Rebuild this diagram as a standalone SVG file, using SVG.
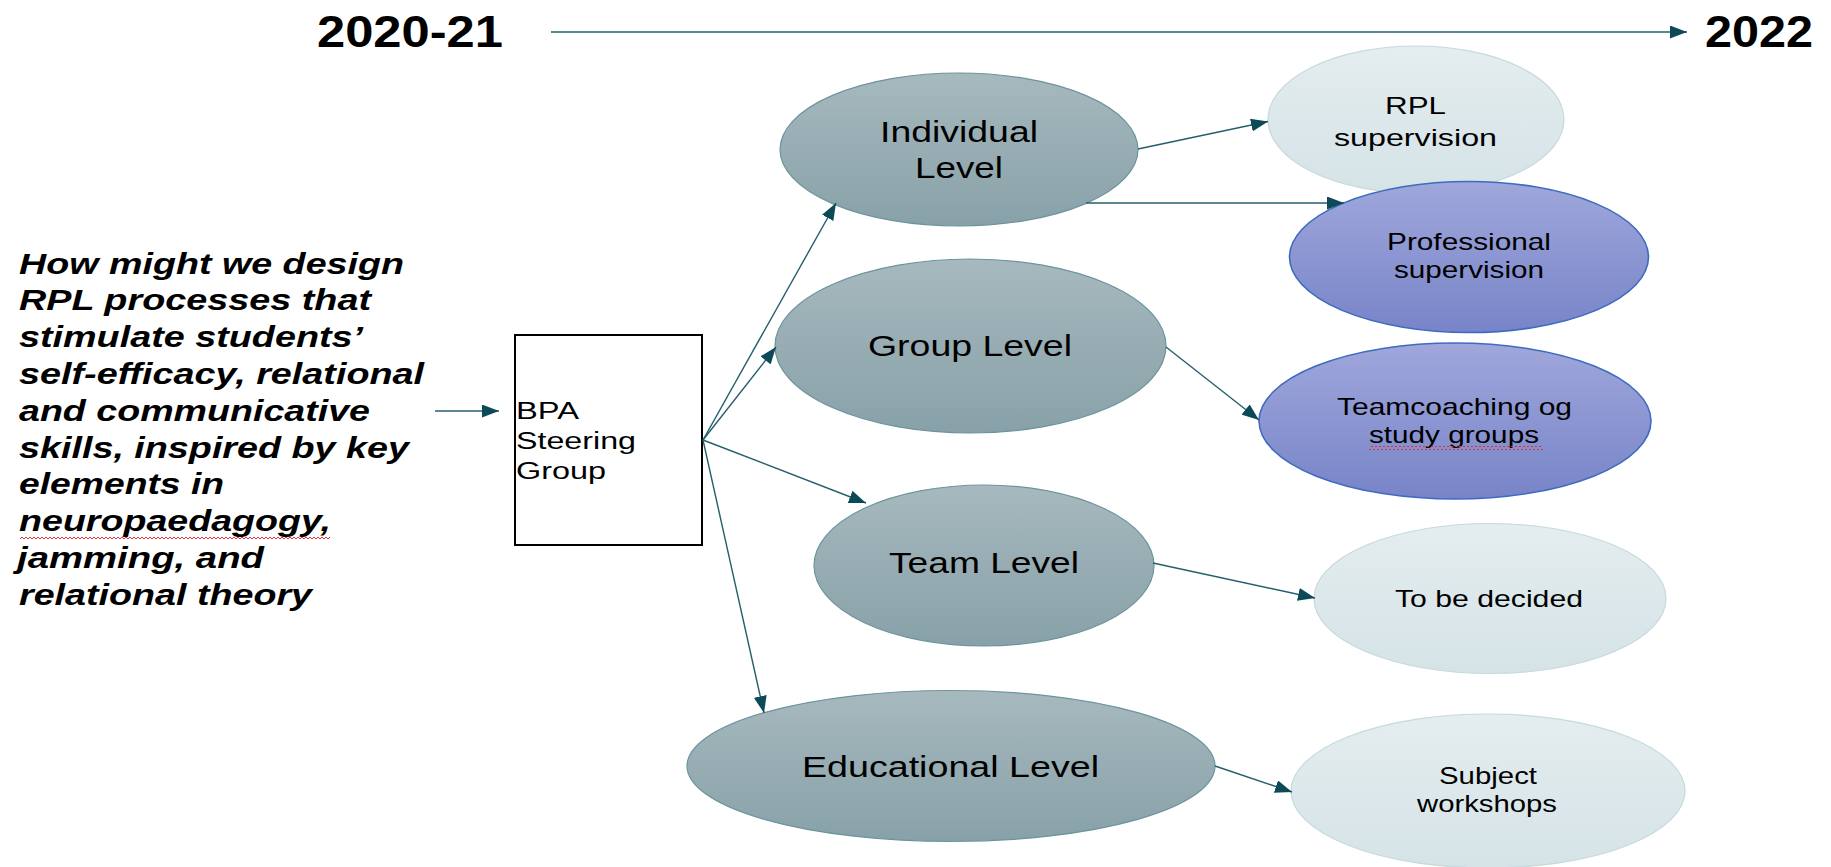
<svg xmlns="http://www.w3.org/2000/svg" width="1831" height="867" viewBox="0 0 1831 867">
  <style>
    text { font-family: "Liberation Sans", Arial, sans-serif; fill: #000; }
    .year { font-size: 45px; font-weight: bold; }
    .q { font-size: 29.5px; font-weight: bold; font-style: italic; }
    .box { font-size: 23px; }
    .lvl { font-size: 29px; }
    .out { font-size: 24px; }
    .level { fill: url(#gLevel); stroke: #6d949d; stroke-width: 1.2; }
    .light { fill: url(#gLight); stroke: #c6d9dd; stroke-width: 1.2; }
    .blue { fill: url(#gBlue); stroke: #3e6bc0; stroke-width: 1.6; }
    .edge { fill: none; stroke: #245f6d; stroke-width: 1.4; marker-end: url(#arrow); }
  </style>
  <defs>
    <linearGradient id="gLevel" x1="0" y1="0" x2="0" y2="1">
      <stop offset="0" stop-color="#a6b9be"/>
      <stop offset="1" stop-color="#88a1a8"/>
    </linearGradient>
    <linearGradient id="gLight" x1="0" y1="0" x2="0" y2="1">
      <stop offset="0" stop-color="#e4edef"/>
      <stop offset="1" stop-color="#d5e3e7"/>
    </linearGradient>
    <linearGradient id="gBlue" x1="0" y1="0" x2="0" y2="1">
      <stop offset="0" stop-color="#9fa7db"/>
      <stop offset="1" stop-color="#7884c8"/>
    </linearGradient>
    <!-- red squiggle used by the spell-check underlines -->
    <pattern id="squiggle" x="0" y="0" width="4" height="4" patternUnits="userSpaceOnUse">
      <path d="M0,3 L2,1 L4,3" fill="none" stroke="#e0303a" stroke-width="1"/>
    </pattern>
    <marker id="arrow" viewBox="0 0 17 13" refX="17" refY="6.5" markerWidth="17" markerHeight="13" markerUnits="userSpaceOnUse" orient="auto">
      <path d="M0,0 L17,6.5 L0,13 Z" fill="#0c4a58"/>
    </marker>
  </defs>

  <!-- timeline header -->
  <g id="timeline">
    <text class="year" x="317" y="46.5" textLength="186" lengthAdjust="spacingAndGlyphs">2020-21</text>
    <text class="year" x="1705" y="46.5" textLength="108" lengthAdjust="spacingAndGlyphs">2022</text>
  </g>

  <!-- guiding question -->
  <g id="question">
    <text class="q" x="19" y="273.5" textLength="385" lengthAdjust="spacingAndGlyphs">How might we design</text>
    <text class="q" x="19" y="310.3" textLength="352" lengthAdjust="spacingAndGlyphs">RPL processes that</text>
    <text class="q" x="19" y="347.1" textLength="344" lengthAdjust="spacingAndGlyphs">stimulate students’</text>
    <text class="q" x="19" y="383.9" textLength="405" lengthAdjust="spacingAndGlyphs">self-efficacy, relational</text>
    <text class="q" x="19" y="420.7" textLength="351" lengthAdjust="spacingAndGlyphs">and communicative</text>
    <text class="q" x="19" y="457.5" textLength="390" lengthAdjust="spacingAndGlyphs">skills, inspired by key</text>
    <text class="q" x="19" y="494.3" textLength="205" lengthAdjust="spacingAndGlyphs">elements in</text>
    <text class="q" x="19" y="531.1" textLength="312" lengthAdjust="spacingAndGlyphs">neuropaedagogy,</text>
    <text class="q" x="17" y="567.9" textLength="247" lengthAdjust="spacingAndGlyphs">jamming, and</text>
    <text class="q" x="19" y="604.7" textLength="293" lengthAdjust="spacingAndGlyphs">relational theory</text>
    <rect x="20" y="535" width="310" height="4" fill="url(#squiggle)"/>
  </g>

  <!-- steering group box -->
  <g id="bpa">
    <rect x="515" y="335" width="187" height="210" fill="#fff" stroke="#000" stroke-width="2"/>
    <text class="box" x="516" y="419" textLength="63" lengthAdjust="spacingAndGlyphs">BPA</text>
    <text class="box" x="516" y="449" textLength="120" lengthAdjust="spacingAndGlyphs">Steering</text>
    <text class="box" x="516" y="479" textLength="90" lengthAdjust="spacingAndGlyphs">Group</text>
  </g>

  <!-- levels -->
  <g id="individual">
    <ellipse class="level" cx="959" cy="149.5" rx="179" ry="76.5"/>
    <text class="lvl" x="880" y="141.7" textLength="158" lengthAdjust="spacingAndGlyphs">Individual</text>
    <text class="lvl" x="915" y="178.3" textLength="88" lengthAdjust="spacingAndGlyphs">Level</text>
  </g>
  <g id="group">
    <ellipse class="level" cx="970.5" cy="346" rx="195.5" ry="87"/>
    <text class="lvl" x="868" y="356" textLength="204" lengthAdjust="spacingAndGlyphs">Group Level</text>
  </g>
  <g id="team">
    <ellipse class="level" cx="984" cy="565.5" rx="170" ry="80.5"/>
    <text class="lvl" x="889" y="572.7" textLength="190" lengthAdjust="spacingAndGlyphs">Team Level</text>
  </g>
  <g id="educational">
    <ellipse class="level" cx="951" cy="766" rx="264" ry="75.5"/>
    <text class="lvl" x="802" y="777" textLength="297" lengthAdjust="spacingAndGlyphs">Educational Level</text>
  </g>

  <!-- outcomes -->
  <g id="rpl-supervision">
    <ellipse class="light" cx="1416" cy="119.5" rx="148" ry="73.5"/>
    <text class="out" x="1385" y="114" font-size="25" textLength="61" lengthAdjust="spacingAndGlyphs">RPL</text>
    <text class="out" x="1334" y="146" font-size="25" textLength="163" lengthAdjust="spacingAndGlyphs">supervision</text>
  </g>
  <g id="professional-supervision">
    <ellipse class="blue" cx="1469" cy="257" rx="179.5" ry="75.5"/>
    <text class="out" x="1387" y="250" textLength="164" lengthAdjust="spacingAndGlyphs">Professional</text>
    <text class="out" x="1394" y="278.3" textLength="150" lengthAdjust="spacingAndGlyphs">supervision</text>
  </g>
  <g id="teamcoaching">
    <ellipse class="blue" cx="1455" cy="421" rx="196" ry="78"/>
    <text class="out" x="1337" y="415" textLength="235" lengthAdjust="spacingAndGlyphs">Teamcoaching og</text>
    <text class="out" x="1369" y="442.7" textLength="170" lengthAdjust="spacingAndGlyphs">study groups</text>
    <rect x="1369" y="446" width="174" height="4" fill="url(#squiggle)"/>
  </g>
  <g id="to-be-decided">
    <ellipse class="light" cx="1490" cy="598.5" rx="176" ry="75"/>
    <text class="out" x="1395" y="607" textLength="188" lengthAdjust="spacingAndGlyphs">To be decided</text>
  </g>
  <g id="subject-workshops">
    <ellipse class="light" cx="1488" cy="791" rx="197" ry="77"/>
    <text class="out" x="1439" y="784" textLength="98" lengthAdjust="spacingAndGlyphs">Subject</text>
    <text class="out" x="1417" y="812.3" textLength="140" lengthAdjust="spacingAndGlyphs">workshops</text>
  </g>

  <!-- connectors -->
  <g id="connectors">
    <line class="edge" x1="551" y1="32" x2="1687" y2="32"/>
    <line class="edge" x1="435" y1="411" x2="499" y2="411"/>
    <line class="edge" x1="703" y1="440" x2="836" y2="203"/>
    <line class="edge" x1="703" y1="440" x2="776" y2="347"/>
    <line class="edge" x1="703" y1="440" x2="866" y2="503"/>
    <line class="edge" x1="703" y1="440" x2="764" y2="713"/>
    <line class="edge" x1="1138" y1="149" x2="1268" y2="121.5"/>
    <line class="edge" x1="1086" y1="203" x2="1344" y2="203"/>
    <line class="edge" x1="1166" y1="347" x2="1259" y2="420"/>
    <line class="edge" x1="1153" y1="563" x2="1315" y2="598"/>
    <line class="edge" x1="1215" y1="766" x2="1292" y2="792"/>
  </g>
</svg>
